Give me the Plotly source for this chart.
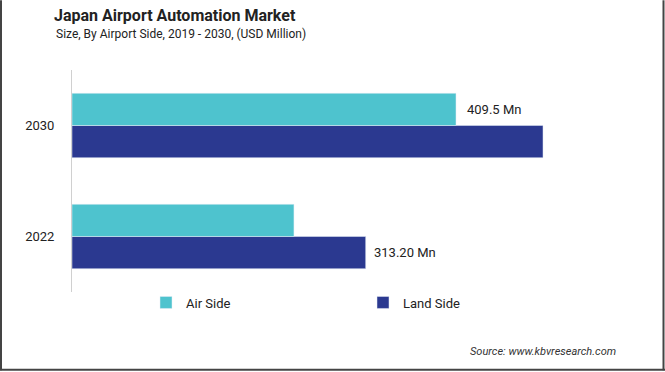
import plotly.graph_objects as go

years = ["2022", "2030"]
air_side = [236.7, 409.5]
land_side = [313.2, 502.3]
air_labels = ["", "409.5 Mn"]
land_labels = ["313.20 Mn", ""]

W, H = 665, 372
ml, mr, mt, mb = 72, 25, 70, 79.5
pw, ph = W - ml - mr, H - mt - mb

def px(x):
    return (x - ml) / pw

def py(y):
    return 1 - (y - mt) / ph

fig = go.Figure()
fig.add_trace(go.Bar(
    y=years, x=land_side, orientation="h", name="Land Side",
    marker_color="#2B3990",
))
fig.add_trace(go.Bar(
    y=years, x=air_side, orientation="h", name="Air Side",
    marker_color="#4EC3CE",
))

annotations = []
for i, (v, lab) in enumerate(zip(air_side, air_labels)):
    if lab:
        annotations.append(dict(x=v, y=i, xref="x", yref="y", text=lab, showarrow=False,
                                xanchor="left", yanchor="middle", xshift=9, yshift=16,
                                font=dict(size=13, color="#222222")))
for i, (v, lab) in enumerate(zip(land_side, land_labels)):
    if lab:
        annotations.append(dict(x=v, y=i, xref="x", yref="y", text=lab, showarrow=False,
                                xanchor="left", yanchor="middle", xshift=6, yshift=-16,
                                font=dict(size=13, color="#222222")))

annotations += [
    dict(text="Size, By Airport Side, 2019 - 2030, (USD Million)", xref="paper", yref="paper",
         x=px(54), y=py(34), xanchor="left", yanchor="middle", showarrow=False,
         font=dict(size=12, color="#222222")),
    dict(text="<i>Source: www.kbvresearch.com</i>", xref="paper", yref="paper",
         x=px(618), y=py(352), xanchor="right", yanchor="middle", showarrow=False,
         font=dict(size=11, color="#333333")),
]

fig.update_layout(
    width=W, height=H,
    margin=dict(l=ml, r=mr, t=mt, b=mb),
    barmode="group", bargap=0.42, bargroupgap=0,
    plot_bgcolor="white", paper_bgcolor="white",
    font=dict(family="Roboto", color="#222222"),
    xaxis=dict(range=[0, pw / 0.9377], showgrid=False, showticklabels=False,
               zeroline=False, showline=False, fixedrange=True),
    yaxis=dict(type="category", categoryorder="array", categoryarray=years,
               range=[-0.5, 1.5], fixedrange=True,
               showgrid=False, showline=True, linecolor="#D0D0D0", linewidth=1,
               ticks="", tickfont=dict(size=13, color="#222222"), ticklabelstandoff=14),
    showlegend=True,
    legend=dict(orientation="h", traceorder="reversed", x=px(146), y=py(288),
                xanchor="left", yanchor="top", entrywidth=172, entrywidthmode="pixels",
                font=dict(size=13, color="#222222"), itemwidth=30),
    title=dict(text="<b>Japan Airport Automation Market</b>", x=54 / W, xanchor="left",
               y=1 - 15 / H, yanchor="middle", font=dict(size=16, color="#222222")),
    annotations=annotations,
    shapes=[
        dict(type="line", xref="paper", yref="paper", x0=px(1), x1=px(1), y0=py(0), y1=py(371),
             line=dict(color="#444444", width=2)),
        dict(type="line", xref="paper", yref="paper", x0=px(663.5), x1=px(663.5), y0=py(0), y1=py(371),
             line=dict(color="#444444", width=2)),
        dict(type="line", xref="paper", yref="paper", x0=px(0), x1=px(665), y0=py(370.5), y1=py(370.5),
             line=dict(color="#444444", width=2)),
    ],
)

fig.write_html("out.html", config={"displayModeBar": False},
               post_script="document.body.style.margin='0';document.body.style.overflow='hidden';")
